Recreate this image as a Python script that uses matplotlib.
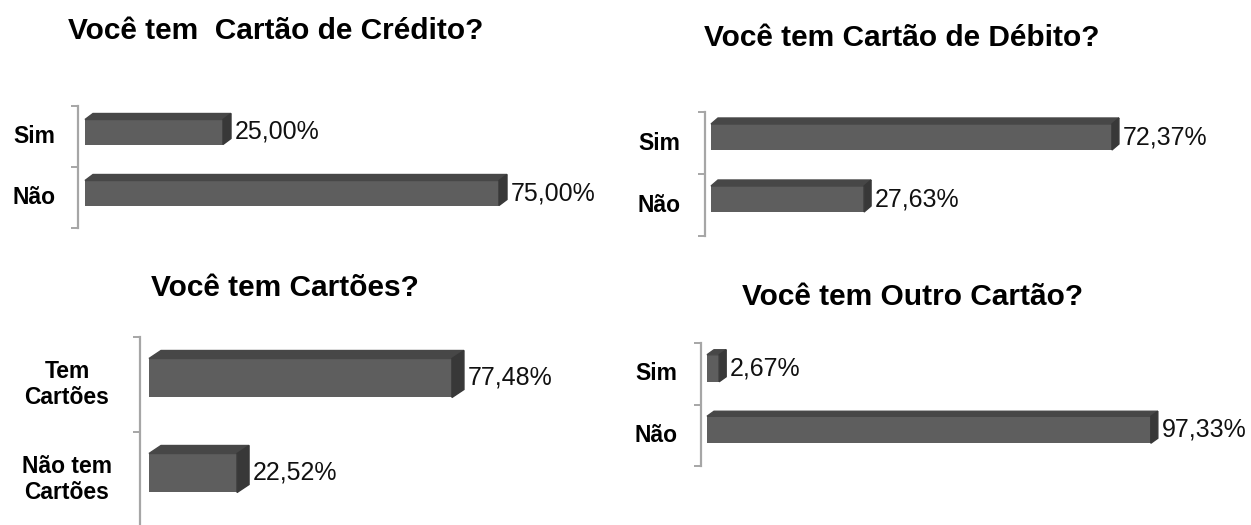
import matplotlib
matplotlib.use('Agg')
import matplotlib.pyplot as plt
from matplotlib.patches import Polygon
import numpy as np

plt.rcParams['font.family'] = ['Liberation Sans', 'DejaVu Sans']

# Data (percent)
credito_cats = ['Sim', 'Não']
credito_vals = [25.00, 75.00]
debito_cats = ['Sim', 'Não']
debito_vals = [72.37, 27.63]
cartoes_cats = ['Tem\nCartões', 'Não tem\nCartões']
cartoes_vals = [77.48, 22.52]
outro_cats = ['Sim', 'Não']
outro_vals = [2.67, 97.33]

FRONT = '#5e5e5e'
TOP = '#474747'
SIDE = '#383838'
AXIS = '#a6a6a6'

W, H = 1251, 525
fig = plt.figure(figsize=(W / 100, H / 100), dpi=100)


def pct(v):
    return f'{v:.2f}%'.replace('.', ',')


def panel(cats, vals, title, title_xy, axis_x, top_tick, bot_tick, bar_x0,
          px_per_pct, front_h, front_off, dx, dy, label_x):
    '''
    One 3D-looking horizontal bar panel, geometry given in pixels.
    '''
    n = len(cats)
    band = (bot_tick - top_tick) / n
    gap = bar_x0 - axis_x
    width_px = gap + 100 * px_per_pct + 110
    ax = fig.add_axes([axis_x / W, 1 - bot_tick / H, width_px / W,
                       (bot_tick - top_tick) / H])
    ax.set_xlim(-gap / px_per_pct, (width_px - gap) / px_per_pct)
    ax.set_ylim(n, 0)
    ax.patch.set_alpha(0)

    ddx = dx / px_per_pct
    ddy = dy / band
    ypos = np.arange(n) + 0.5 + front_off / band
    bars = ax.barh(ypos, vals, height=front_h / band, color=FRONT,
                   edgecolor='none', zorder=3)
    for rect, v, y in zip(bars, vals, ypos):
        x0, w = rect.get_x(), rect.get_width()
        yt = rect.get_y()
        yb = yt + rect.get_height()
        top = Polygon([(x0, yt), (x0 + w, yt), (x0 + w + ddx, yt - ddy),
                       (x0 + ddx, yt - ddy)], closed=True, color=TOP, zorder=3)
        side = Polygon([(x0 + w, yt), (x0 + w, yb), (x0 + w + ddx, yb - ddy),
                        (x0 + w + ddx, yt - ddy)], closed=True, color=SIDE, zorder=3)
        ax.add_patch(top)
        ax.add_patch(side)
        ax.text(x0 + w + ddx + 4 / px_per_pct, y, pct(v), fontsize=18,
                va='center', ha='left', color='#111111')

    lx = -(gap + axis_x - label_x) / px_per_pct
    for i, c in enumerate(cats):
        ax.text(lx, i + 0.5, c, fontsize=16.5, fontweight='bold', ha='center',
                va='center', linespacing=1.2, clip_on=False)

    for s in ['top', 'right', 'bottom']:
        ax.spines[s].set_visible(False)
    ax.spines['left'].set_color(AXIS)
    ax.spines['left'].set_linewidth(1.6)
    ax.set_xticks([])
    ax.set_yticks(np.arange(n + 1))
    ax.set_yticklabels([])
    ax.tick_params(axis='y', direction='out', length=5, width=1.4, color=AXIS)

    fig.text(title_xy[0] / W, 1 - title_xy[1] / H, title, fontsize=21.5,
             fontweight='bold', ha='center', va='center')
    return ax


panel(credito_cats, credito_vals, 'Você tem  Cartão de Crédito?', (276, 31),
      78, 106, 228, 85, 5.52, 25, -4.5, 8, 6, 34)
panel(debito_cats, debito_vals, 'Você tem Cartão de Débito?', (902, 38),
      705, 112, 236, 711, 5.54, 26, -6, 7, 6, 659)
panel(cartoes_cats, cartoes_vals, 'Você tem Cartões?', (285, 288),
      140, 337, 527, 149, 3.91, 39, -6.5, 12, 8, 67)
panel(outro_cats, outro_vals, 'Você tem Outro Cartão?', (913, 297),
      701, 343, 466, 707, 4.56, 27, -5.5, 7, 5, 656)

fig.savefig('out.png', dpi=100)
